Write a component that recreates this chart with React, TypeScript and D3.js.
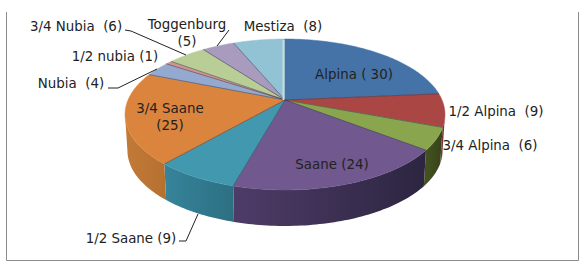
import React from 'react';
import * as d3 from 'd3';

const breeds = ['Alpina', '1/2 Alpina', '3/4 Alpina', 'Saane', '1/2 Saane', '3/4 Saane', 'Nubia', '1/2 nubia', '3/4 Nubia', 'Toggenburg', 'Mestiza'];
const counts = [30, 9, 6, 24, 9, 25, 4, 1, 6, 5, 8];

const topColors = ['#4573a7', '#aa4643', '#89a54e', '#71588f', '#4198af', '#db843d', '#93a9cf', '#d19392', '#b9cd96', '#a99bbd', '#92c3d5'];
const wallLeft = ['#3a5f8a', '#8a3a38', '#46541f', '#4e3c68', '#36849b', '#c37a38', '#7a8cab', '#ad7a79', '#99aa7c', '#8c80a0', '#799fae'];
const wallRight = ['#2c4868', '#6b2b2a', '#36421b', '#2c2540', '#2d6f82', '#b5702f', '#667590', '#8f6564', '#7f8e67', '#756a85', '#658591'];

const labelLines = [
    ['Alpina ( 30)'], ['1/2 Alpina  (9)'], ['3/4 Alpina  (6)'], ['Saane (24)'], ['1/2 Saane (9)'], ['3/4 Saane', '(25)'],
    ['Nubia  (4)'], ['1/2 nubia (1)'], ['3/4 Nubia  (6)'], ['Toggenburg', '(5)'], ['Mestiza  (8)'],
];
const labelAt = [[354, 74], [496, 111], [490, 145], [332, 164], [131, 238], [170, 108], [71, 83], [115, 56], [76, 26], [187, 24], [283, 26]];
const leaders = [
    [[125, 30], [131, 31], [186, 55]],
    [[108, 88], [118, 88], [157, 69]],
    [[217, 46], [229, 30]],
    [[179, 241], [186, 241], [198, 214]],
];

// pie as a tilted disc seen in perspective, fitted to the picture
const cx = 285, cy = 100, R = 157, S = 72.7, k = 0.192, depth = 36;

const project = (a: number) => {
    const u = Math.sin(a), v = -Math.cos(a), w = 1 - k * v;
    return [cx + R * u / w, cy + S * v / w];
};
const lower = (a: number) => {
    const [x, y] = project(a);
    return [cx + (x - cx) * 0.985, y + depth];
};
const arcAngles = (a0: number, a1: number) => {
    const n = Math.max(2, Math.ceil((a1 - a0) / 0.02));
    return d3.range(n + 1).map(i => a0 + (a1 - a0) * i / n);
};

const frontStart = Math.acos(-k);
const frontEnd = 2 * Math.PI - frontStart;

export default function App() {
    const slices = d3.pie<number>().sort(null).startAngle(0).endAngle(2 * Math.PI)(counts);
    const line = d3.line();

    const walls = slices.map((s, i) => {
        const a0 = Math.max(s.startAngle, frontStart);
        const a1 = Math.min(s.endAngle, frontEnd);
        if (a1 <= a0) return null;
        const angles = arcAngles(a0, a1);
        const pts = [...angles.map(project), ...angles.slice().reverse().map(lower)];
        const xs = pts.map(p => p[0]);
        return (
            <g key={i}>
                <linearGradient id={'wall' + i} gradientUnits="userSpaceOnUse" x1={d3.min(xs)} x2={d3.max(xs)} y1={0} y2={0}>
                    <stop offset="0" stopColor={wallLeft[i]} />
                    <stop offset="1" stopColor={wallRight[i]} />
                </linearGradient>
                <path d={line(pts as [number, number][]) + 'Z'} fill={`url(#wall${i})`} />
            </g>
        );
    });

    const faces = slices.map((s, i) => {
        const pts = [[cx, cy], ...arcAngles(s.startAngle, s.endAngle).map(project)];
        return <path key={i} d={line(pts as [number, number][]) + 'Z'} fill={topColors[i]} stroke={topColors[i]} strokeWidth={0.5} />;
    });

    const spokes = slices.map((s, i) => {
        const [x, y] = project(s.startAngle);
        return <line key={i} x1={cx} y1={cy} x2={x} y2={y} stroke="#3a3a4a" strokeOpacity={0.55} strokeWidth={1} />;
    });

    const [tx, ty] = project(0);

    return (
        <svg width={588} height={264} style={{position: 'absolute', left: 0, top: 0, background: '#fff'}}>
            <path d="M6.5 12V260.5H578.5V12" fill="none" stroke="#8c8c8c" strokeWidth={1} />
            {walls}
            {faces}
            {spokes}
            <line x1={tx - 1.5} y1={cy} x2={tx - 1.5} y2={ty + 1} stroke="#c3dce6" strokeWidth={2} />
            {leaders.map((l, i) => (
                <path key={i} d={line(l as [number, number][])} fill="none" stroke="#222" strokeWidth={1} />
            ))}
            <g fontFamily="DejaVu Sans" fontSize={13.4} fill="#222" textAnchor="middle">
                {labelLines.map((lines, i) => lines.map((t, j) => (
                    <text key={t} x={labelAt[i][0]} y={labelAt[i][1] + 5 + j * 17} xmlSpace="preserve" style={{whiteSpace: 'pre'}}>{t}</text>
                )))}
            </g>
        </svg>
    );
}
